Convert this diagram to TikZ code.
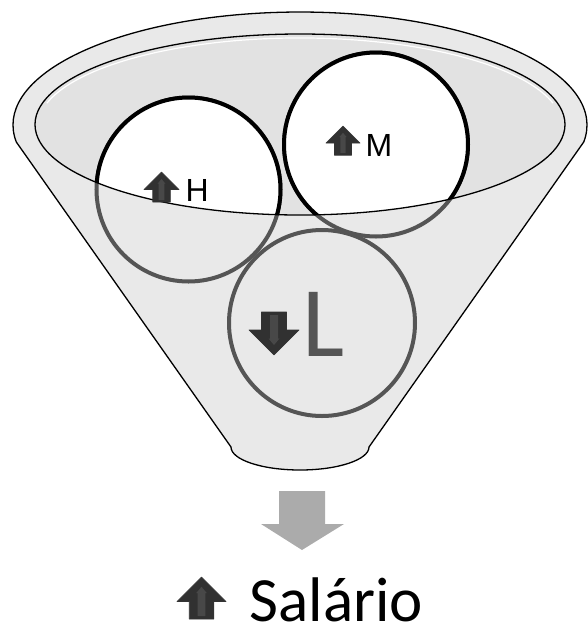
\documentclass[tikz,border=0pt]{standalone}
\usepackage{fontspec}
\setmainfont{Carlito}
\newfontfamily\arialfont{Liberation Sans}
\usepackage{tikz}
\usepackage{xcolor}
\usetikzlibrary{positioning}
\definecolor{Funnel_Rim}{HTML}{E9E9E9}
\definecolor{Funnel_Mouth}{HTML}{E2E2E2}
\definecolor{Ring_Gray}{HTML}{555555}
\definecolor{Arrow_Dark}{HTML}{313131}
\definecolor{Arrow_Light}{HTML}{484848}
\definecolor{Flow_Gray}{HTML}{ABABAB}

\tikzset{
    ring/.style={Ring_Gray, line width=4pt},
    trend/.pic={
        \filldraw[Arrow_Dark, draw=black!80, line width=0.6pt, line join=round]
            (0,0) -- (0.5,0.5) -- (0.25,0.5) -- (0.25,0.86) -- (-0.25,0.86) -- (-0.25,0.5) -- (-0.5,0.5) -- cycle;
        \fill[Arrow_Light] (0,0.2) -- (0.11,0.33) -- (0.08,0.33) -- (0.08,0.8) -- (-0.08,0.8) -- (-0.08,0.33) -- (-0.11,0.33) -- cycle;
    }
}

\begin{document}
\begin{tikzpicture}[x=1pt, y=-1pt]
    \useasboundingbox (0,0) rectangle (588,625);
    % funnel body and mouth
    \filldraw[Funnel_Rim, draw=black, line width=1.3pt, line join=round]
        (16.3,142) arc[start angle=171.35, end angle=368.65, x radius=287, y radius=113]
        -- (369,447) arc[start angle=0, end angle=180, x radius=69, y radius=23] -- cycle;
    \fill[Funnel_Mouth] (300,124.5) ellipse[x radius=265, y radius=90.5];
    \draw[white, line width=1.2pt] (46.9,103.2) arc[start angle=195, end angle=345, x radius=262, y radius=88];

    \coordinate (hc) at (188.5,189.5);
    \coordinate (mc) at (376,144.5);
    \coordinate (lc) at (322,323);
    \draw[ring] (hc) circle[radius=92];
    \draw[ring] (mc) circle[radius=92];
    \draw[ring] (lc) circle[radius=93];
    \begin{scope}
        \clip (300,124.5) ellipse[x radius=265, y radius=90.5];
        \filldraw[fill=white, draw=black, line width=4pt] (hc) circle[radius=92];
        \filldraw[fill=white, draw=black, line width=4pt] (mc) circle[radius=92];
    \end{scope}
    \draw[line width=1.3pt] (300,124.5) ellipse[x radius=265, y radius=90.5];

    \pic[scale=35] (upH) at (161.5,172) {trend};
    \node[anchor=base west, inner sep=0, font=\arialfont\fontsize{32}{32}\selectfont] (lblH) at (185.5,201) {H};
    \pic[scale=34] (upM) at (343,126) {trend};
    \node[anchor=base west, inner sep=0, font=\arialfont\fontsize{32}{32}\selectfont] (lblM) at (365.5,156) {M};
    \pic[scale=50, rotate=180] (downL) at (274,355) {trend};
    \node[anchor=base west, inner sep=0, text=Ring_Gray, font=\fontsize{100}{100}\selectfont] (lblL) at (302,356) {L};

    % result
    \fill[Flow_Gray] (279,491) -- (325,491) -- (325,524) -- (344,524) -- (302,550) -- (261,524) -- (279,524) -- cycle;
    \pic[scale=49] (upS) at (201.5,577) {trend};
    \node[anchor=base west, inner sep=0, text depth=0pt, font=\fontsize{63}{63}\selectfont] (salario) at (249.5,621) {Salário};
\end{tikzpicture}
\end{document}
